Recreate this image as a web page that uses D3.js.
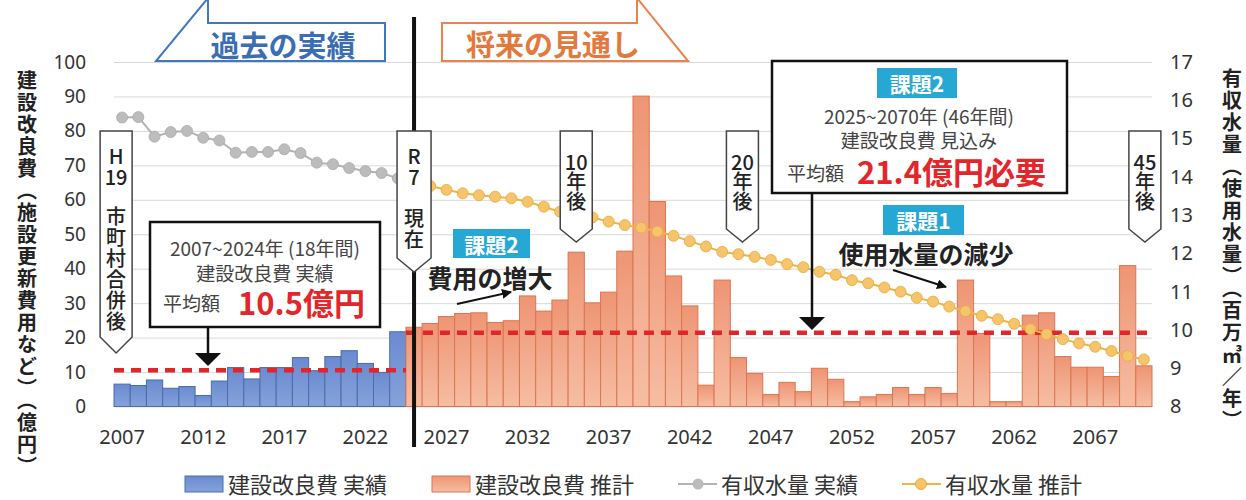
<!DOCTYPE html>
<html>
<head>
<meta charset="utf-8">
<script src="https://cdn.jsdelivr.net/npm/d3@7"></script>
<style>
  body { margin: 0; background: #fff; }
  svg { display: block; font-family: "Noto Sans CJK JP", "Noto Sans", sans-serif; }
  .vt { writing-mode: vertical-rl; }
</style>
</head>
<body>
<div id="chart"></div>
<script>
"use strict";
// ---- data ----
const pastYears = d3.range(2007, 2025);      // 実績
const futureYears = d3.range(2025, 2071);    // 推計
const costActual = [6.5, 6.1, 7.7, 5.3, 5.8, 3.2, 7.4, 11.3, 8.0, 11.3, 11.3, 14.2, 10.4, 14.5, 16.2, 12.5, 9.9, 21.7];
const costForecast = [23.0, 24.1, 26.1, 27.0, 27.2, 24.4, 24.9, 32.1, 27.7, 30.9,
                      44.8, 30.1, 33.2, 45.1, 90.1, 59.5, 37.9, 29.2, 6.2, 36.7,
                      14.2, 9.6, 3.5, 7.0, 4.3, 11.1, 7.9, 1.4, 2.8, 3.5,
                      5.5, 3.5, 5.5, 3.8, 36.7, 21.2, 1.4, 1.4, 26.5, 27.2,
                      14.5, 11.4, 11.4, 8.7, 40.9, 11.8];
const waterActual = [15.55, 15.56, 15.05, 15.17, 15.2, 15.02, 14.95, 14.63, 14.65, 14.65, 14.72, 14.62, 14.37, 14.33, 14.23, 14.15, 14.1, 13.96];
const waterForecast = [13.85, 13.76, 13.66, 13.57, 13.52, 13.48, 13.44, 13.35, 13.22, 13.09,
                       13.02, 12.94, 12.83, 12.74, 12.67, 12.57, 12.46, 12.32, 12.18, 12.04,
                       11.98, 11.91, 11.83, 11.72, 11.64, 11.52, 11.44, 11.30, 11.22, 11.11,
                       11.00, 10.84, 10.74, 10.61, 10.49, 10.37, 10.28, 10.16, 10.02, 9.89,
                       9.76, 9.65, 9.56, 9.45, 9.32, 9.23];
const avgActual = 10.5, avgForecast = 21.4;
const leftTicks = [0, 10, 20, 30, 40, 50, 60, 70, 80, 90, 100];
const rightTicks = [8, 9, 10, 11, 12, 13, 14, 15, 16, 17];
const yearTicks = [2007, 2012, 2017, 2022, 2027, 2032, 2037, 2042, 2047, 2052, 2057, 2062, 2067];

// ---- frame ----
const W = 1246, H = 500;
const plot = {left: 114, right: 1152, top: 62, bottom: 406.5};

const svg = d3.select("#chart").append("svg")
    .attr("width", W).attr("height", H);

const defs = svg.append("defs");
const grad = (id, top, bottom) => {
    const g = defs.append("linearGradient").attr("id", id)
        .attr("x1", 0).attr("y1", 0).attr("x2", 0).attr("y2", 1);
    g.append("stop").attr("offset", "0%").attr("stop-color", top);
    g.append("stop").attr("offset", "100%").attr("stop-color", bottom);
};
grad("gBlue", "#6a8bcf", "#86a2da");
grad("gOrange", "#ee9574", "#f6bda3");

const x = d3.scaleBand()
    .domain(pastYears.concat(futureYears))
    .range([plot.left, plot.right])
    .padding(0);
const bw = x.bandwidth();
const cx = yr => x(yr) + bw / 2;
const yL = d3.scaleLinear().domain([0, 100]).range([plot.bottom, plot.top]);
const yR = d3.scaleLinear().domain([8, 17]).range([plot.bottom, plot.top]);

// gridlines + left axis
const gLeft = svg.append("g")
    .attr("transform", `translate(${plot.left},0)`)
    .call(d3.axisLeft(yL).tickValues(leftTicks)
        .tickSize(-(plot.right - plot.left)).tickPadding(28));
gLeft.select(".domain").remove();
gLeft.selectAll("line").attr("stroke", "#d9d9d9");
gLeft.selectAll("text")
    .attr("font-family", "'Noto Sans', sans-serif")
    .attr("font-size", 19).attr("fill", "#333");

const gRight = svg.append("g")
    .attr("transform", `translate(${plot.right},0)`)
    .call(d3.axisRight(yR).tickValues(rightTicks).tickSize(0).tickPadding(18));
gRight.select(".domain").remove();
gRight.selectAll("text")
    .attr("font-family", "'Noto Sans', sans-serif")
    .attr("font-size", 20).attr("fill", "#333");

const gX = svg.append("g")
    .attr("transform", `translate(0,${plot.bottom})`)
    .call(d3.axisBottom(x).tickValues(yearTicks).tickSize(0).tickPadding(23));
gX.select(".domain").remove();
gX.selectAll("text")
    .attr("font-family", "'Noto Sans', sans-serif")
    .attr("font-size", 20).attr("fill", "#333");

// bars
const pastData = pastYears.map((yr, i) => ({year: yr, v: costActual[i], w: waterActual[i]}));
const futureData = futureYears.map((yr, i) => ({year: yr, v: costForecast[i], w: waterForecast[i]}));

svg.append("g").selectAll("rect")
    .data(pastData).enter().append("rect")
        .attr("x", d => x(d.year)).attr("width", bw)
        .attr("y", d => yL(d.v)).attr("height", d => yL(0) - yL(d.v))
        .attr("fill", "url(#gBlue)").attr("stroke", "#4a6cad").attr("stroke-width", 1);

svg.append("g").selectAll("rect")
    .data(futureData).enter().append("rect")
        .attr("x", d => x(d.year)).attr("width", bw)
        .attr("y", d => yL(d.v)).attr("height", d => yL(0) - yL(d.v))
        .attr("fill", "url(#gOrange)").attr("stroke", "#dc7550").attr("stroke-width", 1);

// average lines
const dash = (x1, x2, v) => svg.append("line")
    .attr("x1", x1).attr("x2", x2).attr("y1", yL(v)).attr("y2", yL(v))
    .attr("stroke", "#e0252b").attr("stroke-width", 4.5).attr("stroke-dasharray", "10,7");
dash(x(2007), x(2024) + bw, avgActual);
dash(x(2025), plot.right, avgForecast);

// water volume lines
const line = d3.line().x(d => cx(d.year)).y(d => yR(d.w));
svg.append("path").datum(pastData).attr("d", line)
    .attr("fill", "none").attr("stroke", "#b3b3b3").attr("stroke-width", 2);
svg.append("g").selectAll("circle").data(pastData).enter().append("circle")
    .attr("cx", d => cx(d.year)).attr("cy", d => yR(d.w)).attr("r", 5.5)
    .attr("fill", "#bcbcbc").attr("stroke", "#aaa").attr("stroke-width", 0.8);
svg.append("path").datum(futureData).attr("d", line)
    .attr("fill", "none").attr("stroke", "#f0b445").attr("stroke-width", 2);
svg.append("g").selectAll("circle").data(futureData).enter().append("circle")
    .attr("cx", d => cx(d.year)).attr("cy", d => yR(d.w)).attr("r", 5.5)
    .attr("fill", "#f6c46a").attr("stroke", "#e9a83f").attr("stroke-width", 0.8);

// "now" divider
svg.append("line")
    .attr("x1", cx(2025)).attr("x2", cx(2025)).attr("y1", 17).attr("y2", 447)
    .attr("stroke", "#111").attr("stroke-width", 4);

// banners
svg.append("path")
    .attr("d", "M208,-2 L208,23 L385,23 L385,61 L156,61 Z")
    .attr("fill", "#fff").attr("stroke", "#3f78c0").attr("stroke-width", 2);
svg.append("text").attr("x", 283).attr("y", 44).text("過去の実績")
    .attr("text-anchor", "middle").attr("dominant-baseline", "central")
    .attr("font-size", 29).attr("font-weight", 700).attr("fill", "#3b6db5");
svg.append("path")
    .attr("d", "M442,23 L637,23 L637,-2 L688,61 L442,61 Z")
    .attr("fill", "#fff").attr("stroke", "#e8844b").attr("stroke-width", 2);
svg.append("text").attr("x", 553).attr("y", 43).text("将来の見通し")
    .attr("text-anchor", "middle").attr("dominant-baseline", "central")
    .attr("font-size", 29).attr("font-weight", 700).attr("fill", "#e27a3e");

// milestone callouts (pointing down): horizontal head lines, then vertical text
const callouts = [
    {year: 2007, dx: -6, half: 16, side: 337, tip: 353, head: ["H", "19"], hy: 155, vt: "市町村合併後", vy: 206, ls: 1},
    {year: 2025, dx: 0, half: 17, side: 258, tip: 272, head: ["R", "7"], hy: 155, vt: "現在", vy: 208, ls: 1},
    {year: 2035, dx: 0, half: 16, side: 229, tip: 242, head: ["10"], hy: 161, vt: "年後", vy: 171, ls: 0},
    {year: 2045, dx: 4, half: 16, side: 229, tip: 242, head: ["20"], hy: 161, vt: "年後", vy: 171, ls: 0},
    {year: 2070, dx: 1, half: 16, side: 229, tip: 242, head: ["45"], hy: 161, vt: "年後", vy: 171, ls: 0}
];
callouts.forEach(c => {
    const m = cx(c.year) + c.dx, top = 131;
    svg.append("path")
        .attr("d", `M${m - c.half},${top} H${m + c.half} V${c.side} L${m},${c.tip} L${m - c.half},${c.side} Z`)
        .attr("fill", "#fff").attr("stroke", "#444").attr("stroke-width", 1.5);
    const h = svg.append("text")
        .attr("text-anchor", "middle").attr("dominant-baseline", "central")
        .attr("font-size", 20).attr("font-weight", 500).attr("fill", "#222");
    c.head.forEach((t, i) => h.append("tspan").attr("x", m).attr("y", c.hy + i * 21).text(t));
    svg.append("text").attr("class", "vt")
        .attr("x", m).attr("y", c.vy).text(c.vt)
        .attr("font-size", 20).attr("font-weight", 500).attr("fill", "#222")
        .attr("letter-spacing", c.ls);
});

// helpers for notes
const txt = (xx, yy, t, size, opts = {}) => svg.append("text")
    .attr("x", xx).attr("y", yy).text(t)
    .attr("text-anchor", opts.anchor || "middle").attr("dominant-baseline", "central")
    .attr("font-size", size).attr("font-weight", opts.weight || 400)
    .attr("fill", opts.fill || "#444");
const badge = (x0, y0, w, h, t) => {
    svg.append("rect").attr("x", x0).attr("y", y0).attr("width", w).attr("height", h).attr("fill", "#27a8d4");
    txt(x0 + w / 2, y0 + h / 2, t, 21, {weight: 700, fill: "#fff"});
};
const downArrow = (ax, y1, y2) => {
    svg.append("line").attr("x1", ax).attr("x2", ax).attr("y1", y1).attr("y2", y2 - 12)
        .attr("stroke", "#111").attr("stroke-width", 2.5);
    svg.append("path").attr("d", `M${ax - 13},${y2 - 13} L${ax + 13},${y2 - 13} L${ax},${y2} Z`).attr("fill", "#111");
};
defs.append("marker").attr("id", "head").attr("viewBox", "0 0 10 10")
    .attr("refX", 9).attr("refY", 5).attr("markerWidth", 5).attr("markerHeight", 5)
    .attr("orient", "auto")
    .append("path").attr("d", "M0,0 L10,5 L0,10 Z").attr("fill", "#111");
const pointer = (x1, y1, x2, y2) => svg.append("line")
    .attr("x1", x1).attr("y1", y1).attr("x2", x2).attr("y2", y2)
    .attr("stroke", "#111").attr("stroke-width", 2).attr("marker-end", "url(#head)");

// past average box
svg.append("rect").attr("x", 150).attr("y", 222).attr("width", 230).attr("height", 105)
    .attr("fill", "#fff").attr("stroke", "#111").attr("stroke-width", 2.5);
txt(265, 247, "2007~2024年 (18年間)", 19);
txt(265, 272, "建設改良費 実績", 19);
txt(163, 302, "平均額", 19, {anchor: "start"});
txt(238, 301, "10.5億円", 31, {anchor: "start", weight: 700, fill: "#e3262b"});
downArrow(208, 327, 366);

// future average box
svg.append("rect").attr("x", 772).attr("y", 61).attr("width", 295).attr("height", 132)
    .attr("fill", "#fff").attr("stroke", "#111").attr("stroke-width", 2.5);
badge(877, 68, 80, 30, "課題2");
txt(919, 115, "2025~2070年 (46年間)", 19);
txt(919, 139, "建設改良費 見込み", 19);
txt(787, 172, "平均額", 19, {anchor: "start"});
txt(857, 170, "21.4億円必要", 31, {anchor: "start", weight: 700, fill: "#e3262b"});
downArrow(812, 193, 330);

// issue notes
badge(453, 229, 77, 29, "課題2");
txt(490, 277, "費用の増大", 25, {weight: 700, fill: "#222"});
pointer(457, 304, 511, 292);
badge(883, 205, 81, 30, "課題1");
txt(926, 253, "使用水量の減少", 25, {weight: 700, fill: "#222"});
pointer(893, 270, 946, 287);

// axis titles, set vertically
svg.append("text").attr("class", "vt")
    .attr("x", 27).attr("y", 70)
    .text("建設改良費（施設更新費用など）（億円）")
    .attr("font-size", 20).attr("font-weight", 700).attr("fill", "#222")
    .attr("letter-spacing", 2);
svg.append("text").attr("class", "vt")
    .attr("x", 1232).attr("y", 68)
    .text("有収水量（使用水量）（百万㎥／年）")
    .attr("font-size", 20).attr("font-weight", 700).attr("fill", "#222")
    .attr("letter-spacing", 2);

// legend
const lg = svg.append("g");
const ly = 484;
lg.append("rect").attr("x", 185).attr("y", ly - 8).attr("width", 38).attr("height", 16)
    .attr("fill", "url(#gBlue)").attr("stroke", "#4a6cad");
lg.append("rect").attr("x", 432).attr("y", ly - 8).attr("width", 38).attr("height", 16)
    .attr("fill", "url(#gOrange)").attr("stroke", "#dc7550");
lg.append("line").attr("x1", 678).attr("x2", 717).attr("y1", ly).attr("y2", ly)
    .attr("stroke", "#b3b3b3").attr("stroke-width", 2);
lg.append("circle").attr("cx", 698).attr("cy", ly).attr("r", 5.5).attr("fill", "#bcbcbc");
lg.append("line").attr("x1", 902).attr("x2", 941).attr("y1", ly).attr("y2", ly)
    .attr("stroke", "#f0b445").attr("stroke-width", 2);
lg.append("circle").attr("cx", 921).attr("cy", ly).attr("r", 5.5).attr("fill", "#f6c46a").attr("stroke", "#e9a83f");
[[228, "建設改良費 実績"], [475, "建設改良費 推計"], [721, "有収水量 実績"], [945, "有収水量 推計"]]
    .forEach(([lx, t]) => txt(lx, ly - 1, t, 22, {anchor: "start", fill: "#333"}));
</script>
</body>
</html>
